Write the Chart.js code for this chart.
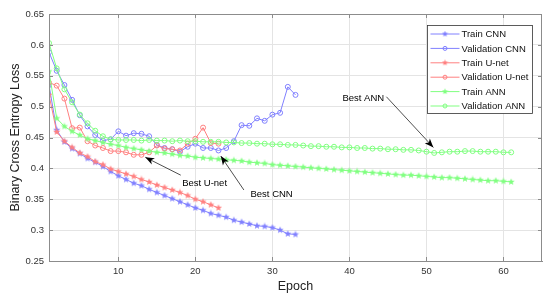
<!DOCTYPE html>
<html>
<head>
<meta charset="utf-8">
<script src="https://cdn.jsdelivr.net/npm/chart.js@4.4.0/dist/chart.umd.min.js"></script>
<style>
  body { margin: 0; background: #fff; }
</style>
</head>
<body>
<canvas id="lossChart" width="550" height="297"></canvas>
<script>
// values (loss per epoch, epoch = index + 1)
const trainCNN = [0.535, 0.462, 0.443, 0.432, 0.424, 0.416, 0.410, 0.403, 0.395, 0.388,
  0.382, 0.376, 0.372, 0.366, 0.361, 0.356, 0.351, 0.346, 0.341, 0.336,
  0.332, 0.327, 0.324, 0.321, 0.316, 0.313, 0.310, 0.307, 0.306, 0.304,
  0.300, 0.294, 0.293];
const valCNN = [0.588, 0.558, 0.535, 0.511, 0.486, 0.468, 0.454, 0.445, 0.447, 0.460,
  0.453, 0.457, 0.456, 0.452, 0.438, 0.433, 0.431, 0.427, 0.435, 0.440,
  0.433, 0.433, 0.429, 0.433, 0.444, 0.470, 0.469, 0.481, 0.477, 0.487,
  0.490, 0.532, 0.519];
const trainUnet = [0.519, 0.459, 0.444, 0.434, 0.425, 0.419, 0.411, 0.406, 0.399, 0.395,
  0.391, 0.387, 0.382, 0.378, 0.373, 0.369, 0.365, 0.361, 0.356, 0.350,
  0.346, 0.341, 0.336];
const valUnet = [0.539, 0.534, 0.513, 0.465, 0.466, 0.444, 0.437, 0.433, 0.428, 0.428,
  0.426, 0.422, 0.422, 0.426, 0.437, 0.432, 0.431, 0.429, 0.440, 0.448,
  0.466, 0.441, 0.440];
const trainANN = [0.557, 0.481, 0.468, 0.460, 0.454, 0.448, 0.445, 0.442, 0.439, 0.437,
  0.434, 0.432, 0.430, 0.428, 0.426, 0.425, 0.423, 0.421, 0.420, 0.418,
  0.417, 0.416, 0.415, 0.414, 0.413, 0.412, 0.410, 0.409, 0.408, 0.406,
  0.405, 0.404, 0.403, 0.402, 0.401, 0.400, 0.399, 0.398, 0.397, 0.396,
  0.395, 0.394, 0.393, 0.392, 0.391, 0.390, 0.389, 0.389, 0.388, 0.387,
  0.386, 0.385, 0.385, 0.384, 0.383, 0.382, 0.381, 0.380, 0.380, 0.379,
  0.378];
const valANN = [0.603, 0.562, 0.528, 0.507, 0.487, 0.473, 0.461, 0.452, 0.447, 0.446,
  0.446, 0.446, 0.445, 0.446, 0.445, 0.445, 0.444, 0.445, 0.444, 0.444,
  0.443, 0.443, 0.443, 0.442, 0.442, 0.441, 0.441, 0.440, 0.440, 0.439,
  0.439, 0.438, 0.438, 0.437, 0.436, 0.436, 0.435, 0.435, 0.434, 0.434,
  0.433, 0.433, 0.432, 0.432, 0.431, 0.431, 0.430, 0.430, 0.429, 0.427,
  0.425, 0.426, 0.427, 0.427, 0.428, 0.428, 0.427, 0.427, 0.427, 0.426,
  0.426];

const seriesNames = ["Train CNN", "Validation CNN", "Train U-net", "Validation U-net", "Train ANN", "Validation ANN"];
const xTicks = [10, 20, 30, 40, 50, 60];
const yTicks = [0.25, 0.3, 0.35, 0.4, 0.45, 0.5, 0.55, 0.6, 0.65];

// annotations in data units: label, label centre, arrow tail, arrow head
const noteLabels = ["Best U-net", "Best CNN", "Best ANN"];
const noteTextAt = [[21.2, 0.376], [29.9, 0.358], [41.8, 0.514]];
const noteTail = [[18.1, 0.389], [26.3, 0.365], [44.8, 0.516]];
const noteHead = [[13.5, 0.418], [23.3, 0.420], [50.9, 0.434]];

const BLUE = "rgb(128,128,255)";
const RED = "rgb(255,128,128)";
const GREEN = "rgb(128,255,128)";

Chart.defaults.font.family = "'Liberation Sans', Arial, sans-serif";

function starMarker(color, size) {
  const c = document.createElement("canvas");
  c.width = size; c.height = size;
  const g = c.getContext("2d");
  const mid = size / 2;
  g.beginPath();
  for (let i = 0; i < 10; i++) {
    const r = i % 2 === 0 ? size / 2 - 0.3 : size / 5;
    const a = -Math.PI / 2 + i * Math.PI / 5;
    const px = mid + r * Math.cos(a), py = mid + r * Math.sin(a);
    if (i === 0) g.moveTo(px, py); else g.lineTo(px, py);
  }
  g.closePath();
  g.fillStyle = color;
  g.fill();
  return c;
}

function toPoints(arr) {
  return arr.map((v, i) => ({ x: i + 1, y: v }));
}

function lineSet(label, values, color, star, order) {
  return {
    label: label,
    data: toPoints(values),
    borderColor: color,
    borderWidth: 1,
    pointStyle: star ? starMarker(color, 8) : "circle",
    pointRadius: star ? 4 : 2.5,
    pointBorderWidth: 1,
    pointBorderColor: color,
    pointBackgroundColor: "rgba(0,0,0,0)",
    tension: 0,
    order: order,
  };
}

const colors = [BLUE, BLUE, RED, RED, GREEN, GREEN];
const stars = [true, false, true, false, true, false];

function drawArrow(ctx, x1, y1, x2, y2) {
  ctx.beginPath();
  ctx.moveTo(x1, y1);
  ctx.lineTo(x2, y2);
  ctx.stroke();
  const ang = Math.atan2(y2 - y1, x2 - x1);
  const len = 9, half = 3.5, back = 6.5;
  const cos = Math.cos(ang), sin = Math.sin(ang);
  ctx.beginPath();
  ctx.moveTo(x2, y2);
  ctx.lineTo(x2 - len * cos + half * sin, y2 - len * sin - half * cos);
  ctx.lineTo(x2 - back * cos, y2 - back * sin);
  ctx.lineTo(x2 - len * cos - half * sin, y2 - len * sin + half * cos);
  ctx.closePath();
  ctx.fill();
}

const extrasPlugin = {
  id: "extras",
  afterDraw(chart) {
    const { ctx, chartArea: a, scales: { x, y } } = chart;
    ctx.save();

    // box with inward ticks, MATLAB style
    ctx.strokeStyle = "#8c8c8c";
    ctx.lineWidth = 1;
    ctx.strokeRect(a.left + 0.5, a.top + 0.5, a.right - a.left - 1, a.bottom - a.top);
    ctx.beginPath();
    xTicks.forEach(v => {
      const px = Math.round(x.getPixelForValue(v)) + 0.5;
      ctx.moveTo(px, a.top); ctx.lineTo(px, a.top + 4);
      ctx.moveTo(px, a.bottom); ctx.lineTo(px, a.bottom - 4);
    });
    yTicks.forEach(v => {
      const py = Math.round(y.getPixelForValue(v)) + 0.5;
      ctx.moveTo(a.left, py); ctx.lineTo(a.left + 4, py);
      ctx.moveTo(a.right, py); ctx.lineTo(a.right - 4, py);
    });
    ctx.stroke();

    // annotations
    ctx.strokeStyle = "#222";
    ctx.fillStyle = "#000";
    ctx.lineWidth = 0.8;
    ctx.font = "9.5px 'Liberation Sans', Arial, sans-serif";
    ctx.textAlign = "center";
    ctx.textBaseline = "middle";
    noteLabels.forEach((txt, i) => {
      drawArrow(ctx,
        x.getPixelForValue(noteTail[i][0]), y.getPixelForValue(noteTail[i][1]),
        x.getPixelForValue(noteHead[i][0]), y.getPixelForValue(noteHead[i][1]));
      ctx.fillText(txt, x.getPixelForValue(noteTextAt[i][0]), y.getPixelForValue(noteTextAt[i][1]));
    });

    // legend box
    const bx = 427.5, by = 25.5, bw = 105, bh = 88;
    ctx.fillStyle = "#fff";
    ctx.fillRect(bx, by, bw, bh);
    ctx.strokeStyle = "#333";
    ctx.lineWidth = 0.8;
    ctx.strokeRect(bx, by, bw, bh);
    ctx.textAlign = "left";
    seriesNames.forEach((name, i) => {
      const ly = by + 8.5 + i * 14.4;
      ctx.strokeStyle = colors[i];
      ctx.lineWidth = 1;
      ctx.beginPath();
      ctx.moveTo(bx + 3, ly); ctx.lineTo(bx + 32, ly);
      ctx.stroke();
      if (stars[i]) {
        const s = starMarker(colors[i], 7);
        ctx.drawImage(s, bx + 17.5 - 3.5, ly - 3.5);
      } else {
        ctx.beginPath();
        ctx.arc(bx + 17.5, ly, 2, 0, Math.PI * 2);
        ctx.stroke();
      }
      ctx.fillStyle = "#111";
      ctx.fillText(name, bx + 34, ly + 0.5);
    });
    ctx.restore();
  }
};

const datasets = [
  lineSet(seriesNames[0], trainCNN, BLUE, true, 6),
  lineSet(seriesNames[1], valCNN, BLUE, false, 5),
  lineSet(seriesNames[2], trainUnet, RED, true, 4),
  lineSet(seriesNames[3], valUnet, RED, false, 3),
  lineSet(seriesNames[4], trainANN, GREEN, true, 2),
  lineSet(seriesNames[5], valANN, GREEN, false, 1),
];

new Chart(document.getElementById("lossChart"), {
  type: "line",
  data: { datasets: datasets },
  options: {
    responsive: false,
    animation: false,
    layout: { padding: { top: 14, right: 8, left: 0, bottom: 0 } },
    plugins: { legend: { display: false }, tooltip: { enabled: false } },
    scales: {
      x: {
        type: "linear",
        min: 1,
        max: 65,
        afterBuildTicks: (s) => { s.ticks = xTicks.map(v => ({ value: v })); },
        afterFit: (s) => { s.height = 36; },
        grid: { color: "#e4e4e4", drawTicks: false },
        border: { color: "#8c8c8c" },
        ticks: { padding: 5, color: "#333", font: { size: 9.5 } },
        title: { display: true, text: "Epoch", color: "#222", font: { size: 12.5 }, padding: { top: 0, bottom: 3 } },
      },
      y: {
        min: 0.25,
        max: 0.65,
        afterBuildTicks: (s) => { s.ticks = yTicks.map(v => ({ value: v })); },
        afterFit: (s) => { s.width = 49; },
        grid: { color: "#e4e4e4", drawTicks: false },
        border: { color: "#8c8c8c" },
        ticks: { padding: 5, color: "#333", font: { size: 9.5 }, callback: (v) => String(+v.toFixed(2)) },
        title: { display: true, text: "Binary Cross Entropy Loss", color: "#222", font: { size: 12.5 }, padding: { top: 8, bottom: 0 } },
      },
    },
  },
  plugins: [extrasPlugin],
});
</script>
</body>
</html>
